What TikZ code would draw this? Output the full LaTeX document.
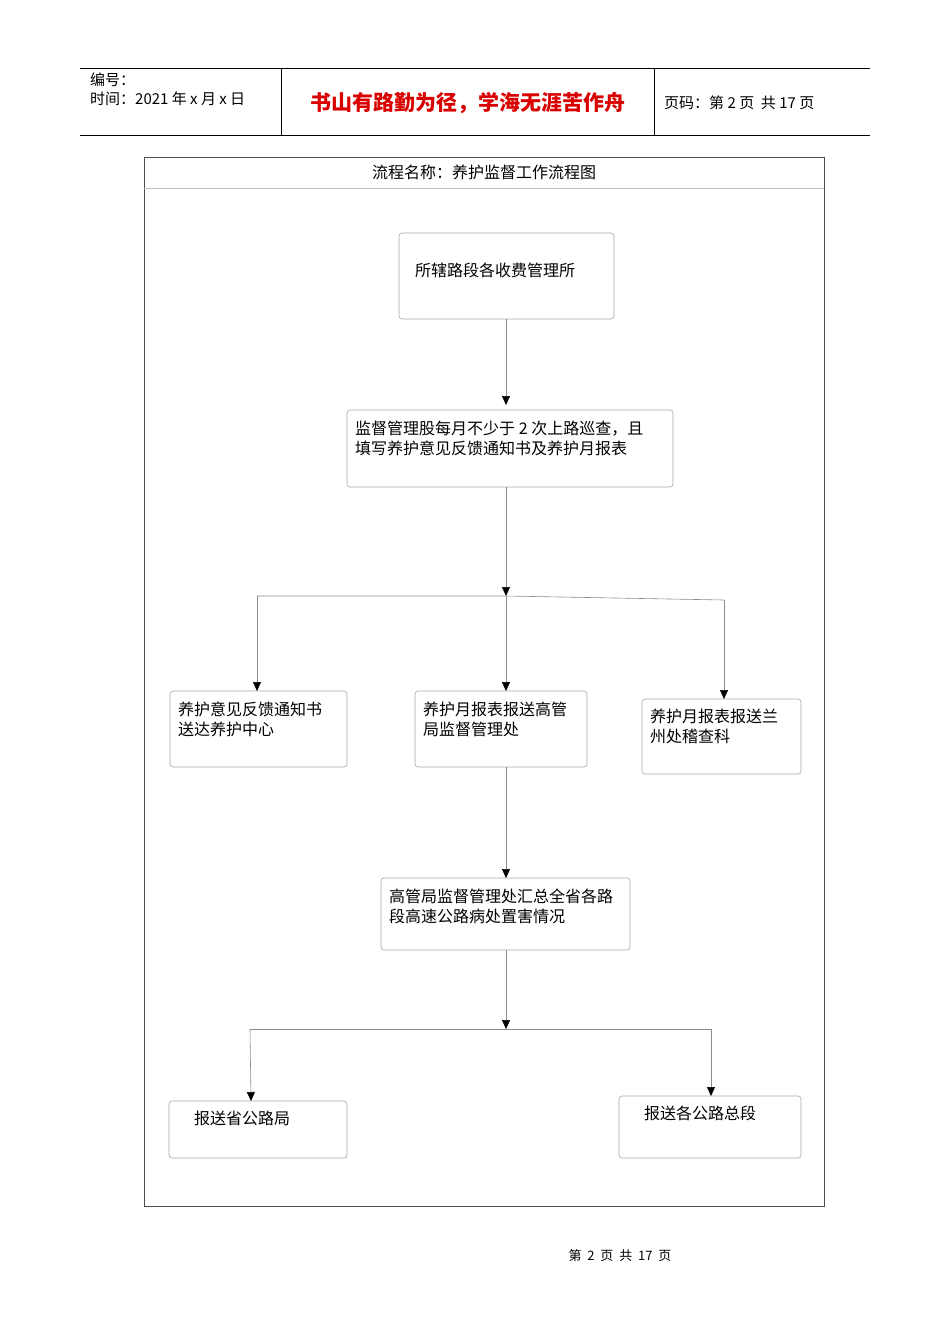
\documentclass[tikz,border=0pt]{standalone}
\usepackage{fontspec}
\setmainfont{Noto Sans CJK SC}
\usetikzlibrary{arrows.meta}
\begin{document}
\begin{tikzpicture}[x=1pt,y=-1pt,
  bx/.style={draw=black!35,rounded corners=3pt,line width=0.6pt},
  tx/.style={anchor=west,inner sep=0pt,font=\fontsize{16}{20}\selectfont,align=left},
  ln/.style={draw=black!45,line width=0.6pt},
  ar/.style={ln,-{Triangle[length=9pt,width=8pt,fill=black,color=black]}}]
\useasboundingbox (0,0) rectangle (950,1344);
% header
\draw[line width=0.6pt] (80,68) -- (870,68) (80,135) -- (870,135) (281,68) -- (281,135) (654,68) -- (654,135);
\node[tx,font=\fontsize{15}{17}\selectfont] (h1) at (90,80) {编号：};
\node[tx,font=\fontsize{15}{17}\selectfont] (h2) at (90,99) {时间：2021 年 x 月 x 日};
\node[inner sep=0pt,text=red!85!black,font=\fontsize{21}{25}\selectfont\bfseries] (h3) at (468,103) {书山有路勤为径，学海无涯苦作舟};
\node[tx,font=\fontsize{15}{17}\selectfont] (h4) at (664,103) {页码：第 2 页\ \ 共 17 页};
% frame
\draw[line width=0.6pt,black!70] (144,157) rectangle (824,1206);
\draw[black!25] (144,188) -- (824,188);
\node[inner sep=0pt,font=\fontsize{16}{18}\selectfont] (title) at (484,172) {流程名称：养护监督工作流程图};
% boxes
\draw[bx] (399,233) rectangle (614,319);
\node[tx] (ta) at (415,270) {所辖路段各收费管理所};
\draw[bx] (347,410) rectangle (673,487);
\node[tx] (tb) at (355,438) {监督管理股每月不少于 2 次上路巡查，且\\填写养护意见反馈通知书及养护月报表};
\draw[bx] (170,691) rectangle (347,767);
\node[tx] (tc1) at (178,719) {养护意见反馈通知书\\送达养护中心};
\draw[bx] (415,691) rectangle (587,767);
\node[tx] (tc2) at (423,719) {养护月报表报送高管\\局监督管理处};
\draw[bx] (642,699) rectangle (801,774);
\node[tx] (tc3) at (650,726) {养护月报表报送兰\\州处稽查科};
\draw[bx] (381,878) rectangle (630,950);
\node[tx] (td) at (389,906) {高管局监督管理处汇总全省各路\\段高速公路病处置害情况};
\draw[bx] (169,1101) rectangle (347,1158);
\node[tx] (te1) at (194,1118) {报送省公路局};
\draw[bx] (619,1096) rectangle (801,1158);
\node[tx] (te2) at (644,1113) {报送各公路总段};
% connectors
\coordinate (a1) at (506,319); \coordinate (a2) at (506,405);
\draw[ar] (a1) -- (a2);
\coordinate (b1) at (506,487); \coordinate (b2) at (506,596);
\draw[ar] (b1) -- (b2);
\coordinate (s1) at (257,596); \coordinate (s3) at (724,600);
\draw[ln] (s1) -- (b2) -- (s3);
\coordinate (c1) at (257,691); \coordinate (c2) at (506,691); \coordinate (c3) at (724,699);
\draw[ar] (s1) -- (c1);
\draw[ar] (b2) -- (c2);
\draw[ar] (s3) -- (c3);
\coordinate (d0) at (506,767); \coordinate (d1) at (506,878);
\draw[ar] (d0) -- (d1);
\coordinate (e0) at (506,950); \coordinate (e1) at (506,1029);
\draw[ar] (e0) -- (e1);
\coordinate (f1) at (250,1029); \coordinate (f2) at (711,1029);
\draw[ln] (f1) -- (f2);
\coordinate (g1) at (251,1101); \coordinate (g2) at (711,1096);
\draw[ar] (f1) -- (g1);
\draw[ar] (f2) -- (g2);
% footer
\node[inner sep=0pt,font=\fontsize{13}{15}\selectfont] (ft) at (620,1256) {第 \ 2 \ 页 \ 共 \ 17 \ 页};
\end{tikzpicture}
\end{document}
